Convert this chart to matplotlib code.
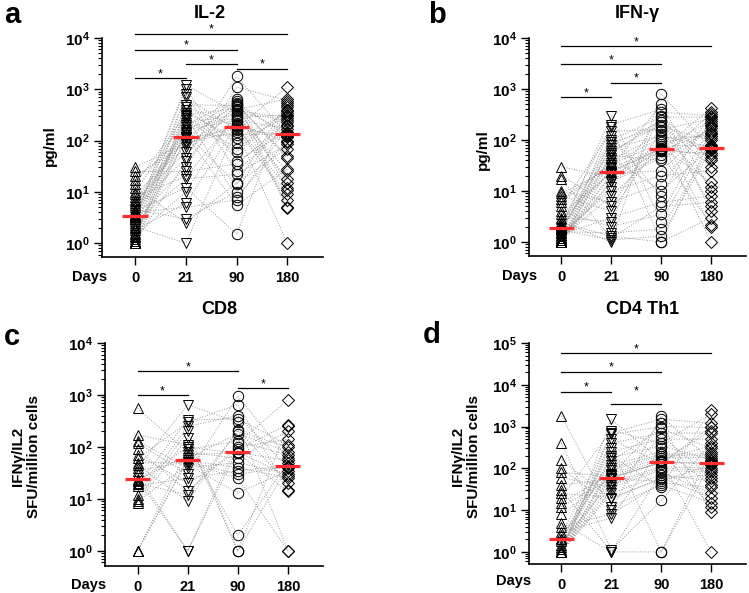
import numpy as np
import matplotlib
matplotlib.use("Agg")
import matplotlib.pyplot as plt
from matplotlib.ticker import LogLocator, FuncFormatter, NullFormatter

plt.rcParams['font.family'] = 'Liberation Sans'
plt.rcParams['font.weight'] = 'bold'
plt.rcParams['mathtext.fontset'] = 'custom'
plt.rcParams['mathtext.bf'] = 'Liberation Sans:bold'
plt.rcParams['mathtext.rm'] = 'Liberation Sans:bold'

days = ['0', '21', '90', '180']
markers = ['^', 'v', 'o', 'D']

# a: IL-2 (pg/ml), one entry per subject
il2_d0 = [3.4, 1.0, 2.1, 5.0, 1.2, 8.0, 2.7, 1.0, 30, 3.0, 1.5, 4.2, 12, 1.1, 2.3, 6.5, 1.8, 3.5, 17, 1.3,
          2.5, 9.0, 1.0, 4.5, 3.2, 1.6, 25, 2.9, 5.5, 1.4, 7.0, 3.7, 10, 2.0, 1.0, 4.0, 14, 3.3, 6.0, 20]
il2_d21 = [250, 115, 1.0, 45, 800, 20, 30, 300, 90, 1200, 150, 12, 2.5, 400, 200, 60, 6, 1000, 130, 350,
           18, 75, 160, 3.0, 700, 100, 25, 220, 110, 10, 140, 450, 280, 500, 40, 5, 320, 180, 120, 85]
il2_d90 = [60, 500, 180, 1800, 25, 300, 1100, 8, 150, 350, 600, 1.5, 15, 90, 650, 400, 200, 40, 5.5, 110,
           22, 450, 250, 10, 160, 550, 35, 320, 170, 380, 14, 190, 70, 480, 520, 7, 420, 280, 130, 210]
il2_d180 = [400, 50, 1100, 130, 200, 18, 600, 100, 1.0, 250, 5, 500, 70, 300, 11, 650, 7, 150, 28, 350,
            85, 15, 170, 450, 9, 120, 230, 25, 125, 280, 550, 12, 380, 140, 45, 190, 4.8, 320, 135, 95]

# b: IFN-gamma (pg/ml)
ifn_d0 = [1.9, 1.0, 1.2, 2.5, 1.0, 8.0, 1.5, 1.0, 30, 1.8, 1.1, 3.0, 17, 1.0, 1.3, 5.0, 1.6, 2.0, 10, 1.0,
          1.4, 6.0, 1.0, 2.2, 1.7, 1.2, 20, 1.9, 3.5, 1.0, 4.0, 2.1, 9.0, 1.5, 1.0, 2.4, 7.0, 1.8, 2.8, 1.1]
ifn_d21 = [60, 22, 8, 1.0, 180, 4, 120, 30, 18, 300, 40, 2.5, 1.2, 50, 12, 150, 1.5, 25, 6, 80,
           3, 35, 15, 200, 1.1, 20, 5, 45, 23, 55, 2, 90, 28, 10, 100, 1.3, 33, 70, 24, 16]
ifn_d90 = [200, 25, 65, 800, 1.0, 100, 8, 500, 60, 2.5, 130, 350, 5, 40, 300, 160, 1.8, 70, 14, 230,
           6, 110, 45, 400, 1.3, 62, 150, 10, 68, 250, 3.5, 180, 75, 20, 280, 1.0, 90, 120, 66, 50]
ifn_d180 = [30, 200, 420, 68, 110, 1.0, 350, 10, 55, 140, 2.0, 300, 6, 170, 40, 260, 75, 15, 220, 45,
            8, 120, 330, 4, 64, 150, 12, 70, 240, 5, 190, 100, 80, 25, 280, 3, 130, 72, 50, 2.2]

# c: CD8 (SFU/million cells)
cd8_d0 = [24, 1, 10, 120, 40, 550, 20, 9, 60, 170, 30, 1, 50, 22, 12, 90, 23, 35, 45, 8.5, 19, 130, 1, 70, 18]
cd8_d21 = [1, 55, 200, 30, 650, 80, 12, 45, 300, 110, 1, 60, 50, 100, 250, 14, 70, 52, 9, 150, 330, 40, 90, 20, 25]
cd8_d90 = [120, 40, 1, 950, 300, 60, 200, 13, 650, 2, 90, 180, 25, 75, 400, 100, 78, 30, 210, 1, 350, 50, 130, 80, 35]
cd8_d180 = [800, 25, 42, 60, 1, 200, 100, 35, 15, 50, 270, 80, 1, 14, 40, 140, 55, 41, 20, 250, 110, 30, 70, 28, 43]

# d: CD4 Th1 (SFU/million cells)
cd4_d0 = [1, 1, 2, 5, 1, 1800, 1.5, 1, 20, 400, 3, 1, 40, 2, 1, 100, 1.2, 8, 160, 1,
          2.5, 60, 1, 30, 1.8, 1, 12, 2, 4, 1, 80, 1.3, 25, 1, 15]
cd4_d21 = [30, 60, 300, 1.0, 1500, 10, 200, 70, 800, 1.1, 6.5, 40, 55, 150, 500, 12, 90, 59, 18, 400,
           650, 35, 120, 1.0, 45, 25, 58, 250, 8, 100, 65, 180, 20, 700, 75]
cd4_d90 = [600, 140, 1.0, 80, 150, 1800, 35, 1200, 400, 17, 300, 100, 50, 900, 130, 40, 200, 139, 60, 700,
           1000, 90, 250, 1.0, 110, 70, 138, 500, 45, 220, 160, 350, 55, 1500, 180]
cd4_d180 = [60, 800, 135, 25, 1.0, 150, 2500, 9, 2000, 400, 40, 90, 120, 300, 1000, 15, 200, 130, 20, 700,
            950, 80, 12, 250, 100, 50, 134, 500, 35, 220, 350, 160, 70, 1200, 180]

# significant comparisons: (group i, group j, log10 height of bar, star offset px)
sig_a = [(0, 1, 3.22, 1), (1, 2, 3.49, 1), (2, 3, 3.40, 1), (0, 2, 3.77, 1), (0, 3, 4.08, 1)]
sig_b = [(0, 1, 2.84, 1), (1, 2, 3.12, 1), (0, 2, 3.49, 1), (0, 3, 3.84, 1)]
sig_c = [(0, 1, 3.00, 1), (2, 3, 3.13, 1), (0, 2, 3.46, 1)]
sig_d = [(0, 1, 3.83, 1), (1, 2, 3.54, 10), (0, 2, 4.31, 1), (0, 3, 4.76, 1)]

W, H = 749, 593
fig = plt.figure(figsize=(W / 100, H / 100), dpi=100)


def px_axes(left, top, right, bottom):
    return fig.add_axes([left / W, 1 - bottom / H, (right - left) / W, (bottom - top) / H])


def draw_panel(ax, groups, sigs, ymax_exp, ybot):
    groups = [np.asarray(g, dtype=float) for g in groups]
    n = len(groups[0])
    xs = np.arange(len(groups))
    for i in range(n):
        ax.plot(xs, [g[i] for g in groups], ls=':', lw=0.7, color='0.6', zorder=1)
    for k, g in enumerate(groups):
        ms = 6.3 if markers[k] == 'D' else 7.5
        ax.plot(np.full(n, k), g, ls='none', marker=markers[k], ms=ms, mfc='none',
                mec='black', mew=0.7, zorder=3)
        ax.hlines(np.median(g), k - 0.25, k + 0.25, color='#ff2d2d', lw=2.3, zorder=5)
    for i, j, h, off in sigs:
        ax.plot([i, j], [10 ** h, 10 ** h], color='black', lw=0.9, clip_on=False, zorder=4)
        ax.annotate('*', ((i + j) / 2, 10 ** h), xytext=(0, off), textcoords='offset pixels',
                    ha='center', va='baseline', fontsize=9, fontweight='normal',
                    annotation_clip=False)
    ax.set_yscale('log')
    ax.set_ylim(10 ** ybot, 10 ** ymax_exp)
    ax.set_xlim(-0.65, 3.7)
    ax.yaxis.set_major_locator(LogLocator(base=10, numticks=20))
    ax.yaxis.set_minor_locator(LogLocator(base=10, subs=np.arange(2, 10), numticks=20))
    ax.yaxis.set_major_formatter(FuncFormatter(lambda v, p: r'$\mathbf{10^{%d}}$' % round(np.log10(v))))
    ax.yaxis.set_minor_formatter(NullFormatter())
    ax.set_xticks(xs)
    ax.set_xticklabels(days, fontsize=10.5, fontweight='bold')
    ax.tick_params(axis='y', which='major', length=6, width=1, labelsize=11, pad=3)
    ax.tick_params(axis='y', which='minor', length=3, width=0.8)
    ax.tick_params(axis='x', length=6, width=1, pad=4)
    for s in ['top', 'right']:
        ax.spines[s].set_visible(False)
    for s in ['left', 'bottom']:
        ax.spines[s].set_linewidth(1.2)


ax_a = px_axes(102, 38, 323, 257)
draw_panel(ax_a, [il2_d0, il2_d21, il2_d90, il2_d180], sig_a, 4, -0.27)
ax_b = px_axes(529, 38, 746, 256)
draw_panel(ax_b, [ifn_d0, ifn_d21, ifn_d90, ifn_d180], sig_b, 4, -0.275)
ax_c = px_axes(105, 343, 323, 566)
draw_panel(ax_c, [cd8_d0, cd8_d21, cd8_d90, cd8_d180], sig_c, 4, -0.29)
ax_d = px_axes(529, 343, 746, 564)
draw_panel(ax_d, [cd4_d0, cd4_d21, cd4_d90, cd4_d180], sig_d, 5, -0.29)


def ftext(x, y, s, **kw):
    fig.text(x / W, 1 - y / H, s, ha='center', va='center', fontweight='bold', **kw)


# titles, panel letters, axis labels
ftext(210, 13, 'IL-2', fontsize=13)
ftext(637, 14, 'IFN-γ', fontsize=13)
ftext(219, 309, 'CD8', fontsize=13)
ftext(643, 309, 'CD4 Th1', fontsize=13)
ftext(12, 15, 'a', fontsize=21)
ftext(437, 15, 'b', fontsize=21)
ftext(12, 337, 'c', fontsize=21)
ftext(432, 335, 'd', fontsize=21)
ftext(50, 146, 'pg/ml', fontsize=11, rotation=90)
ftext(483, 150, 'pg/ml', fontsize=11, rotation=90)
ftext(26, 456, 'IFNγ/IL2\nSFU/million cells', fontsize=11, rotation=90, linespacing=1.15)
ftext(466, 456, 'IFNγ/IL2\nSFU/million cells', fontsize=11, rotation=90, linespacing=1.15)
ftext(90, 277, 'Days', fontsize=10.5)
ftext(520, 276, 'Days', fontsize=10.5)
ftext(89, 585, 'Days', fontsize=10.5)
ftext(514, 581, 'Days', fontsize=10.5)

fig.savefig('out.png', dpi=100, facecolor='white')
